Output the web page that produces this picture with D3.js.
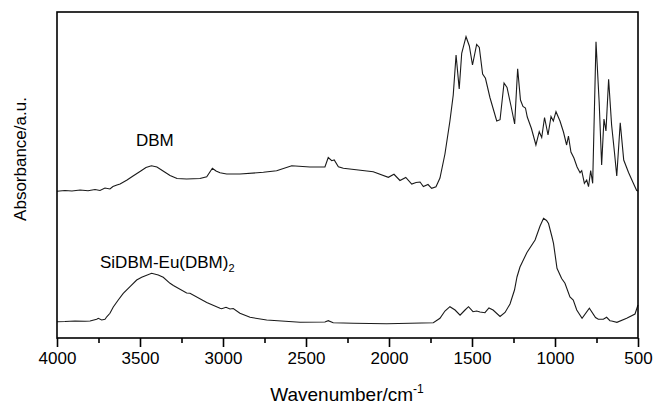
<!DOCTYPE html>
<html>

<head>
    <meta charset="UTF-8">
    <style>
        body { margin: 0; background: #fff; }
        text { font-family: "Liberation Sans", Arial, Helvetica, sans-serif; fill: #000; }
    </style>
</head>

<body>
    <svg></svg>
    <script src="https://d3js.org/d3.v7.min.js"></script>
    <script>
        let width = 653,
            height = 404;

        // DBM spectrum (wavenumber cm-1, absorbance a.u.)
        let dbmWavenumber = [4000, 3952, 3910, 3861, 3813, 3771, 3741, 3711, 3681, 3663, 3639, 3620, 3578, 3542, 3500, 3464, 3431, 3398, 3361, 3319, 3277, 3219, 3139, 3098, 3064, 3042, 3018, 2978, 2898, 2757, 2677, 2586, 2476, 2386, 2366, 2345, 2330, 2305, 2275, 2095, 2004, 1970, 1934, 1899, 1863, 1837, 1813, 1793, 1765, 1743, 1717, 1693, 1663, 1633, 1613, 1596, 1577, 1562, 1536, 1516, 1497, 1472, 1456, 1436, 1419, 1392, 1351, 1331, 1307, 1289, 1265, 1243, 1225, 1208, 1193, 1178, 1167, 1142, 1115, 1095, 1080, 1063, 1042, 1024, 1010, 994, 970, 949, 930, 919, 904, 886, 867, 849, 839, 823, 809, 798, 785, 773, 753, 734, 719, 705, 693, 677, 659, 642, 628, 607, 586, 557, 530, 508, 500];
        let dbmAbsorbance = [1.467, 1.475, 1.47, 1.48, 1.472, 1.485, 1.475, 1.50, 1.49, 1.515, 1.53, 1.54, 1.58, 1.62, 1.665, 1.705, 1.723, 1.71, 1.67, 1.625, 1.595, 1.59, 1.595, 1.613, 1.697, 1.67, 1.653, 1.64, 1.64, 1.657, 1.673, 1.723, 1.71, 1.71, 1.805, 1.773, 1.78, 1.713, 1.697, 1.663, 1.607, 1.637, 1.575, 1.605, 1.54, 1.555, 1.56, 1.515, 1.535, 1.497, 1.513, 1.60, 1.84, 2.17, 2.43, 2.83, 2.49, 2.847, 3.013, 2.92, 2.73, 2.935, 2.905, 2.64, 2.597, 2.405, 2.17, 2.183, 2.55, 2.505, 2.32, 2.14, 2.693, 2.38, 2.315, 2.30, 2.21, 2.095, 1.93, 2.063, 2.005, 2.205, 2.03, 2.215, 2.17, 2.263, 2.17, 2.06, 1.93, 2.02, 1.86, 1.80, 1.71, 1.653, 1.673, 1.547, 1.58, 1.513, 1.675, 1.547, 2.963, 2.36, 1.73, 2.19, 2.07, 2.588, 2.13, 1.86, 1.62, 2.153, 1.78, 1.655, 1.555, 1.475, 1.47];

        // SiDBM-Eu(DBM)2 spectrum
        let siWavenumber = [4000, 3952, 3892, 3831, 3801, 3761, 3751, 3731, 3711, 3699, 3681, 3661, 3631, 3601, 3560, 3520, 3490, 3430, 3390, 3360, 3319, 3299, 3219, 3199, 3098, 3018, 3008, 2982, 2958, 2938, 2898, 2837, 2737, 2536, 2386, 2366, 2336, 2215, 2014, 1733, 1693, 1663, 1633, 1602, 1572, 1542, 1521, 1494, 1472, 1452, 1422, 1398, 1373, 1331, 1301, 1271, 1244, 1229, 1211, 1169, 1120, 1090, 1069, 1051, 1039, 1018, 1009, 988, 960, 940, 910, 890, 869, 837, 793, 756, 739, 709, 689, 669, 659, 627, 568, 518, 500];
        let siAbsorbance = [0.163, 0.165, 0.17, 0.167, 0.17, 0.187, 0.197, 0.18, 0.187, 0.215, 0.247, 0.31, 0.38, 0.447, 0.513, 0.58, 0.607, 0.647, 0.63, 0.607, 0.547, 0.525, 0.45, 0.447, 0.355, 0.297, 0.293, 0.307, 0.29, 0.295, 0.247, 0.207, 0.18, 0.157, 0.16, 0.173, 0.153, 0.147, 0.143, 0.153, 0.197, 0.27, 0.313, 0.28, 0.228, 0.28, 0.313, 0.263, 0.27, 0.26, 0.253, 0.30, 0.28, 0.215, 0.255, 0.34, 0.48, 0.61, 0.71, 0.855, 0.98, 1.12, 1.197, 1.175, 1.145, 1.01, 0.947, 0.697, 0.595, 0.547, 0.41, 0.38, 0.28, 0.197, 0.297, 0.205, 0.187, 0.187, 0.207, 0.173, 0.17, 0.157, 0.197, 0.24, 0.33];

        let majorTicks = [4000, 3500, 3000, 2500, 2000, 1500, 1000, 500];
        let minorTicks = [3750, 3250, 2750, 2250, 1750, 1250, 750];

        let margin = { left: 57, right: 15, top: 12, bottom: 66 };

        let svg = d3.select("svg")
            .attr("width", width)
            .attr("height", height);

        let x = d3.scaleLinear()
            .domain([4000, 500])
            .range([margin.left, width - margin.right]);

        let y = d3.scaleLinear()
            .domain([0, 3.26])
            .range([height - margin.bottom, margin.top]);

        let line = d3.line()
            .x(d => x(d[0]))
            .y(d => y(d[1]));

        let series = [
            d3.zip(dbmWavenumber, dbmAbsorbance),
            d3.zip(siWavenumber, siAbsorbance)
        ];

        svg.append("g")
            .selectAll("path")
            .data(series)
            .enter()
            .append("path")
            .attr("d", line)
            .attr("fill", "none")
            .attr("stroke", "#1a1a1a")
            .attr("stroke-width", 1.1);

        // frame
        svg.append("rect")
            .attr("x", x(4000))
            .attr("y", y(3.26))
            .attr("width", x(500) - x(4000))
            .attr("height", y(0) - y(3.26))
            .attr("fill", "none")
            .attr("stroke", "#000")
            .attr("stroke-width", 1.6);

        let xAxis = svg.append("g")
            .attr("transform", "translate(0," + y(0) + ")")
            .call(d3.axisBottom(x).tickValues(majorTicks).tickSize(9).tickPadding(5).tickFormat(d3.format("d")));
        xAxis.select(".domain").remove();
        xAxis.selectAll("line").attr("stroke-width", 1.6);
        xAxis.selectAll("text")
            .style("font-family", "'Liberation Sans', Arial, sans-serif")
            .style("font-size", "17px");

        let xMinor = svg.append("g")
            .attr("transform", "translate(0," + y(0) + ")")
            .call(d3.axisBottom(x).tickValues(minorTicks).tickSize(5).tickFormat(""));
        xMinor.select(".domain").remove();
        xMinor.selectAll("line").attr("stroke-width", 1.6);

        // axis titles
        let xTitle = svg.append("text")
            .attr("x", 347)
            .attr("y", 401)
            .attr("text-anchor", "middle")
            .style("font-size", "19px");
        xTitle.append("tspan").text("Wavenumber/cm");
        xTitle.append("tspan").attr("dy", -8).style("font-size", "12px").text("-1");

        svg.append("text")
            .attr("transform", "translate(26,159) rotate(-90)")
            .attr("text-anchor", "middle")
            .style("font-size", "17px")
            .text("Absorbance/a.u.");

        // curve labels
        svg.append("text")
            .attr("x", 136)
            .attr("y", 146)
            .style("font-size", "17px")
            .text("DBM");

        let siLabel = svg.append("text")
            .attr("x", 100)
            .attr("y", 268)
            .style("font-size", "17px");
        siLabel.append("tspan").text("SiDBM-Eu(DBM)");
        siLabel.append("tspan").attr("dy", 4).style("font-size", "11px").text("2");
    </script>
</body>

</html>
